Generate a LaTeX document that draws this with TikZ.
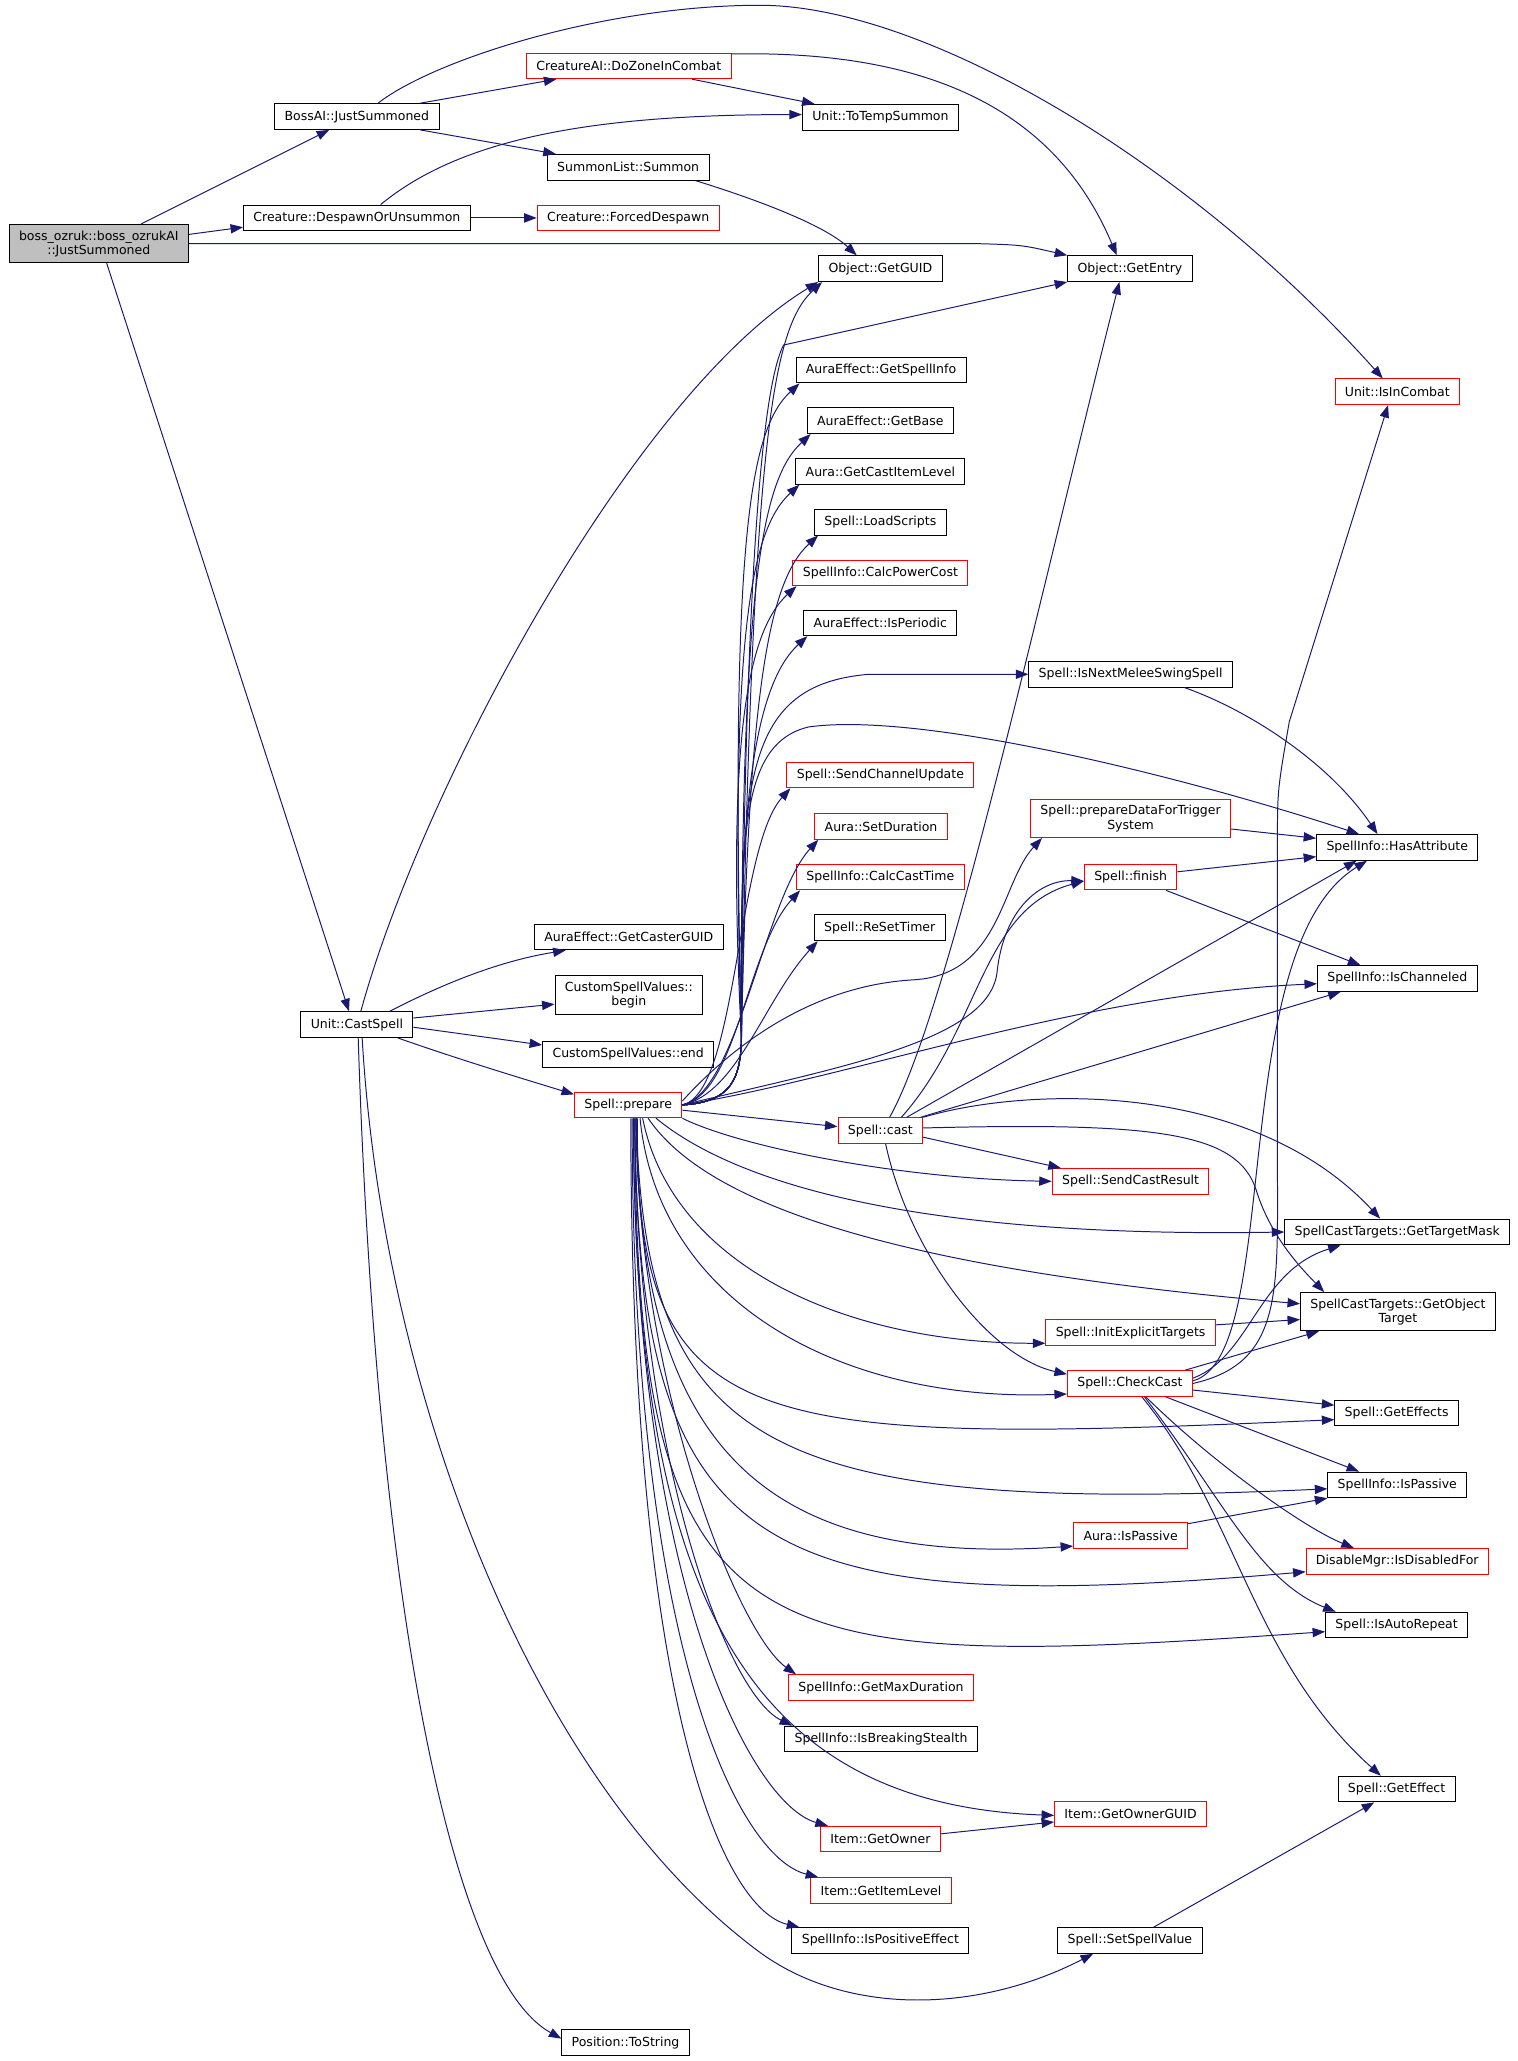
\documentclass[tikz,border=0pt]{standalone}
\usepackage{fontspec}
\setmainfont{DejaVu Sans}
\usetikzlibrary{arrows.meta}
\definecolor{edgeblue}{RGB}{25,25,112}
\definecolor{nodegray}{RGB}{191,191,191}
\tikzset{
  fn/.style={draw=black, fill=white, line width=0.75pt, inner xsep=7.5pt, inner ysep=4.5pt,
    minimum height=19.5pt, align=center, font=\fontsize{9.5}{10.8}\selectfont},
  fnred/.style={fn, draw=red},
  call/.style={draw=edgeblue, line width=0.75pt, -{Triangle[length=9.5pt,width=7pt]}},
}
\begin{document}
\begin{tikzpicture}[x=1pt,y=-1pt]
\useasboundingbox (0,0) rectangle (1152,1565);
% callers on the left
\node[fn,fill=nodegray] (boss) at (75,185) {boss\_ozruk::boss\_ozrukAI\\::JustSummoned};
\node[fn] (bossai) at (271,88.5) {BossAI::JustSummoned};
\node[fn] (despawn) at (271,165.5) {Creature::DespawnOrUnsummon};
\node[fn] (cspell) at (271,778) {Unit::CastSpell};
\node[fnred] (dozone) at (477.5,50) {CreatureAI::DoZoneInCombat};
\node[fn] (summon) at (477,127) {SummonList::Summon};
\node[fnred] (forced) at (477,165.5) {Creature::ForcedDespawn};
\node[fn] (casterguid) at (477.5,711.5) {AuraEffect::GetCasterGUID};
\node[fn] (cbegin) at (477.5,755.5) {CustomSpellValues::\\begin};
\node[fn] (cend) at (477,800.5) {CustomSpellValues::end};
\node[fnred] (prep) at (477,839) {Spell::prepare};
\node[fn] (tostr) at (475,1551) {Position::ToString};
% column next to Spell::prepare
\node[fn] (totemp) at (668.5,89) {Unit::ToTempSummon};
\node[fn] (guid) at (668.5,204) {Object::GetGUID};
\node[fn] (gsi) at (669,281) {AuraEffect::GetSpellInfo};
\node[fn] (gbase) at (668.5,319.5) {AuraEffect::GetBase};
\node[fn] (gcil) at (668.5,358) {Aura::GetCastItemLevel};
\node[fn] (loadscr) at (668.5,396.5) {Spell::LoadScripts};
\node[fnred] (cpc) at (668.5,435) {SpellInfo::CalcPowerCost};
\node[fn] (isper) at (668.5,473) {AuraEffect::IsPeriodic};
\node[fnred] (chanupd) at (668.5,588.5) {Spell::SendChannelUpdate};
\node[fnred] (setdur) at (669,627.5) {Aura::SetDuration};
\node[fnred] (cct) at (668.5,666) {SpellInfo::CalcCastTime};
\node[fn] (reset) at (668,704.5) {Spell::ReSetTimer};
\node[fnred] (cast) at (668.5,858.5) {Spell::cast};
\node[fnred] (maxdur) at (669,1281.5) {SpellInfo::GetMaxDuration};
\node[fn] (breakst) at (669,1320.5) {SpellInfo::IsBreakingStealth};
\node[fnred] (owner) at (668.5,1396.5) {Item::GetOwner};
\node[fnred] (itemlvl) at (669,1435.5) {Item::GetItemLevel};
\node[fn] (posfx) at (668.5,1473.5) {SpellInfo::IsPositiveEffect};
% third column
\node[fn] (entry) at (858,204) {Object::GetEntry};
\node[fn] (melee) at (858.5,512) {Spell::IsNextMeleeSwingSpell};
\node[fnred] (pdts) at (858.5,621.5) {Spell::prepareDataForTrigger\\System};
\node[fnred] (finish) at (858.5,666) {Spell::finish};
\node[fnred] (castres) at (858.5,897) {Spell::SendCastResult};
\node[fnred] (initexp) at (858.5,1012) {Spell::InitExplicitTargets};
\node[fnred] (check) at (858,1050.5) {Spell::CheckCast};
\node[fnred] (aurapass) at (858.5,1166) {Aura::IsPassive};
\node[fnred] (ownerguid) at (858.5,1377.5) {Item::GetOwnerGUID};
\node[fn] (setval) at (858,1473.5) {Spell::SetSpellValue};
% right column
\node[fnred] (incombat) at (1061,297.5) {Unit::IsInCombat};
\node[fn] (hasattr) at (1061,643.5) {SpellInfo::HasAttribute};
\node[fn] (ischan) at (1061,743) {SpellInfo::IsChanneled};
\node[fn] (tmask) at (1061,935.5) {SpellCastTargets::GetTargetMask};
\node[fn] (objtgt) at (1061.5,996) {SpellCastTargets::GetObject\\Target};
\node[fn] (geffects) at (1060.5,1073) {Spell::GetEffects};
\node[fn] (ispassive) at (1061,1127.5) {SpellInfo::IsPassive};
\node[fnred] (disabled) at (1061,1185.5) {DisableMgr::IsDisabledFor};
\node[fn] (autorep) at (1060.5,1234) {Spell::IsAutoRepeat};
\node[fn] (geffect) at (1060.5,1358.5) {Spell::GetEffect};

% boss_ozrukAI
\draw[call] ([xshift=32pt]boss.north) -- ([xshift=-21pt]bossai.south);
\draw[call] ([yshift=7pt]boss.east) -- ([yshift=-7pt]despawn.west);
\draw[call] (boss.east) -- (742,185) .. controls (776,186) .. (entry.north west);
\draw[call] ([xshift=6pt]boss.south) -- ([xshift=-6pt]cspell.north);
% BossAI, DoZoneInCombat, Despawn, Summon
\draw[call] ([xshift=48pt]bossai.north) -- ([xshift=-55pt]dozone.south);
\draw[call] ([xshift=48pt]bossai.south) -- ([xshift=-55pt]summon.north);
\draw[call] ([xshift=16pt]bossai.north) .. controls (330,45) and (460,4) .. (577,4) .. controls (700,4) and (900,120) .. ([xshift=-11pt]incombat.north);
\draw[call] ([xshift=48pt]dozone.south) -- ([xshift=-50pt]totemp.north);
\draw[call] ([yshift=9pt]dozone.east) .. controls (700,38) and (800,80) .. ([xshift=-10pt]entry.north);
\draw[call] ([xshift=18pt]despawn.north) .. controls (350,105) and (450,87) .. ([yshift=2pt]totemp.west);
\draw[call] (despawn) -- (forced);
\draw[call] ([xshift=51pt]summon.south) .. controls (570,150) and (625,170) .. ([xshift=-18pt]guid.north);
% Unit::CastSpell
\draw[call] ([xshift=3pt]cspell.north) .. controls (320,600) and (480,300) .. (guid.south west);
\draw[call] ([xshift=25pt]cspell.north) .. controls (350,740) and (390,728) .. ([xshift=-48pt]casterguid.south);
\draw[call] ([yshift=5pt]cspell.east) -- ([yshift=-7pt]cbegin.west);
\draw[call] ([yshift=-2pt]cspell.east) -- ([yshift=7pt]cend.west);
\draw[call] ([xshift=31pt]cspell.south) .. controls (350,805) and (400,820) .. ([yshift=8pt]prep.west);
\draw[call] ([xshift=1pt]cspell.south) .. controls (285,1200) and (340,1500) .. ([yshift=3pt]tostr.west);
\draw[call] ([xshift=4pt]cspell.south) .. controls (290,1050) and (400,1350) .. (575,1481) .. controls (640,1530) and (740,1530) .. ([xshift=-28pt]setval.south);
% Spell::prepare, upwards
\foreach \t in {guid,gsi,gbase,gcil,loadscr,cpc,isper}
  \draw[call] (prep.east) .. controls (556,837) and (562,818) .. (563,790) .. controls ([shift={(-50,120)}]\t.south west) and ([shift={(-35,35)}]\t.south west) .. ([xshift=3pt]\t.south west);
\foreach \t in {chanupd,setdur,cct,reset}
  \draw[call] (prep.east) .. controls (560,830) and ([shift={(-38,45)}]\t.south west) .. ([xshift=3pt]\t.south west);
\draw[call] (prep.east) .. controls (556,837) and (562,818) .. (563,790) .. controls (565,500) and (575,300) .. (595,262) -- (entry.south west);
\draw[call] (prep.east) .. controls (556,837) and (562,818) .. (563,790) .. controls (563,600) and (560,520) .. (660,512) -- (melee.west);
\draw[call] (prep.east) .. controls (556,837) and (562,818) .. (563,790) .. controls (563,640) and (560,565) .. (614,552) .. controls (700,540) and (900,590) .. ([xshift=-29pt]hasattr.north);
\draw[call] ([yshift=3pt]prep.east) .. controls (560,790) and (620,748) .. (694,744) .. controls (760,740) and (760,670) .. ([xshift=9pt]pdts.south west);
\draw[call] (prep.east) .. controls (640,810) and (750,790) .. (757,739) .. controls (762,690) and (790,668) .. ([yshift=-3pt]finish.west);
\draw[call] (prep.east) .. controls (640,820) and (820,755) .. ([yshift=-4pt]ischan.west);
% Spell::prepare, downwards
\draw[call] ([yshift=-4pt]prep.east) -- ([yshift=3pt]cast.west);
\draw[call] (prep.south east) .. controls (560,870) and (680,895) .. (castres.west);
\draw[call] ([xshift=-20pt]prep.south east) .. controls (560,900) and (700,940) .. (tmask.west);
\draw[call] ([xshift=-26pt]prep.south east) .. controls (540,920) and (700,965) .. ([yshift=6pt]objtgt.west);
\draw[call] ([xshift=11pt]prep.south) .. controls (510,960) and (640,1020) .. ([yshift=-8pt]initexp.west);
\draw[call] ([xshift=9pt]prep.south) .. controls (500,990) and (640,1065) .. ([yshift=-8pt]check.west);
\draw[call] ([xshift=7pt]prep.south) .. controls (482,1090) and (565,1098) .. ([yshift=-5pt]geffects.west);
\draw[call] ([xshift=6pt]prep.south) .. controls (490,1100) and (580,1150) .. ([yshift=-3pt]ispassive.west);
\draw[call] ([xshift=6pt]prep.south) .. controls (485,1100) and (580,1190) .. ([yshift=-8pt]aurapass.west);
\draw[call] ([xshift=5pt]prep.south) .. controls (485,1180) and (570,1230) .. ([yshift=-8pt]disabled.west);
\draw[call] ([xshift=5pt]prep.south) .. controls (483,1260) and (565,1270) .. ([yshift=-5pt]autorep.west);
\draw[call] ([xshift=6pt]prep.south) .. controls (484,1050) and (560,1240) .. ([xshift=6pt]maxdur.north west);
\draw[call] ([xshift=5pt]prep.south) .. controls (483,1100) and (550,1285) .. ([xshift=6pt]breakst.north west);
\draw[call] ([xshift=4pt]prep.south) .. controls (482,1200) and (560,1370) .. ([yshift=-1pt]ownerguid.west);
\draw[call] ([xshift=4pt]prep.south) .. controls (481,1200) and (570,1370) .. ([xshift=6pt]owner.north west);
\draw[call] ([xshift=3pt]prep.south) .. controls (480,1250) and (560,1410) .. ([xshift=6pt]itemlvl.north west);
\draw[call] ([xshift=2pt]prep.south) .. controls (479,1300) and (550,1450) .. ([xshift=6pt]posfx.north west);
% Spell::cast
\draw[call] ([xshift=7pt]cast.north) .. controls (720,770) and (790,450) .. ([xshift=-8pt]entry.south);
\draw[call] ([xshift=16pt]cast.north) .. controls (745,780) and (745,690) .. ([yshift=-3pt]finish.west);
\draw[call] ([xshift=20pt]cast.north) -- ([xshift=-31pt]hasattr.south);
\draw[call] ([xshift=-2pt]cast.north east) -- ([xshift=-43pt]ischan.south);
\draw[call] (cast.north east) .. controls (780,825) and (950,820) .. ([xshift=-13pt]tmask.north);
\draw[call] ([yshift=2pt]cast.east) .. controls (880,852) and (940,860) .. (954,904) .. controls (965,940) and (990,965) .. ([xshift=-56pt]objtgt.north);
\draw[call] ([yshift=-5pt]cast.east) -- ([xshift=-53pt]castres.north);
\draw[call] ([xshift=4pt]cast.south) .. controls (690,950) and (750,1030) .. ([yshift=7pt]check.west);
% Spell::CheckCast
\draw[call] ([xshift=42pt]check.north) -- ([xshift=-60pt]objtgt.south);
\draw[call] ([yshift=4pt]check.east) .. controls (950,1030) and (955,965) .. ([xshift=-43pt]tmask.south);
\draw[call] ([yshift=2pt]check.east) .. controls (975,1030) and (930,720) .. ([xshift=-23pt]hasattr.south);
\draw[call] (check.east) .. controls (975,1035) and (970,980) .. (970,880) -- (970,640) .. controls (970,600) .. (979,548) -- ([xshift=-7pt]incombat.south);
\draw[call] ([yshift=-5pt]check.east) -- ([yshift=6pt]geffects.west);
\draw[call] ([xshift=27pt]check.south) -- ([xshift=-29pt]ispassive.north);
\draw[call] ([xshift=12pt]check.south) .. controls (920,1110) and (990,1160) .. ([xshift=-33pt]disabled.north);
\draw[call] ([xshift=11pt]check.south) .. controls (930,1140) and (955,1200) .. ([xshift=8pt]autorep.north west);
\draw[call] ([xshift=9pt]check.south) .. controls (940,1150) and (950,1260) .. ([xshift=-12pt]geffect.north);
% the rest
\draw[call] ([xshift=41pt]melee.south) .. controls (950,540) and (1010,580) .. ([xshift=-15pt]hasattr.north);
\draw[call] ([yshift=-8pt]pdts.east) -- ([yshift=7pt]hasattr.west);
\draw[call] ([yshift=4pt]finish.east) -- ([yshift=-7pt]hasattr.west);
\draw[call] ([xshift=27pt]finish.south) -- ([xshift=-28pt]ischan.north);
\draw[call] ([yshift=6pt]initexp.east) -- ([yshift=-6pt]objtgt.west);
\draw[call] ([yshift=9pt]aurapass.east) -- (ispassive.south west);
\draw[call] ([yshift=4pt]owner.east) -- ([yshift=-6pt]ownerguid.west);
\draw[call] ([xshift=18pt]setval.north) -- ([xshift=-17pt]geffect.south);
\end{tikzpicture}
\end{document}
